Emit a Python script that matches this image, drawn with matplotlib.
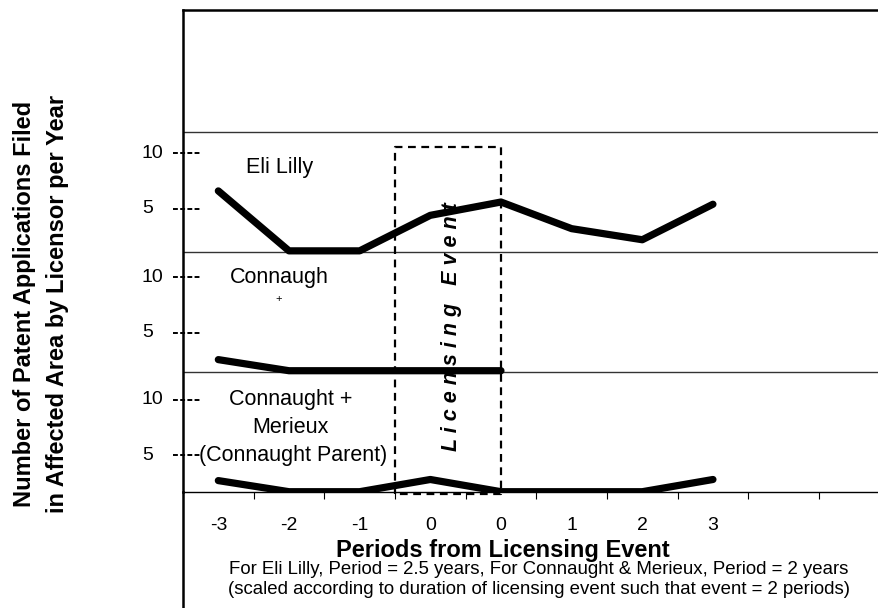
import numpy as np
import matplotlib
matplotlib.use("Agg")
import matplotlib.pyplot as plt
from matplotlib.lines import Line2D

# --- data ---
periods = ["-3", "-2", "-1", "0", "0", "1", "2", "3"]
eli_lilly = [6.6, 1.2, 1.2, 4.4, 5.6, 3.2, 2.2, 5.4]
connaught = [2.6, 1.6, 1.6, 1.6, 1.6, np.nan, np.nan, np.nan]
connaught_merieux = [2.7, 1.7, 1.7, 2.8, 1.7, 1.7, 1.7, 2.8]
panel_ticks = [5, 10]

# each series sits in its own horizontal band of one stacked axis
PANEL_H = 10.8
TOP = 43.4
# (series, band offset, value at band floor)
bands = [
    (connaught_merieux, 0.0, 1.7),
    (connaught, PANEL_H, 1.5),
    (eli_lilly, 2 * PANEL_H, 1.1),
]

plt.rcParams["font.family"] = ["Liberation Sans", "DejaVu Sans"]

W, H = 879, 608
fig = plt.figure(figsize=(W / 100, H / 100), dpi=100)
ax = fig.add_axes([183 / W, 1 - 491.7 / H, 1 - 183 / W, (491.7 - 10) / H])

x = np.arange(len(periods))
for vals, off, lo in bands:
    y = off + np.asarray(vals, dtype=float) - lo
    ax.plot(x, y, color="black", lw=5.2, solid_capstyle="round",
            solid_joinstyle="round", zorder=3)
    for t in panel_ticks:
        yt = off + t - lo
        ax.plot([-0.014, 0.025], [yt, yt], transform=ax.get_yaxis_transform(),
                color="black", lw=1.4, ls=(0, (2.5, 1.2)), clip_on=False)
        ax.text(-0.059, yt, str(t), transform=ax.get_yaxis_transform(),
                ha="left", va="center", fontsize=14)

# separators between the bands
for k in range(1, 4):
    ax.axhline(k * PANEL_H, color="#333333", lw=1.0, zorder=1)

# licensing event box
bx0, bx1, by0, by1 = 2.5, 4.0, -0.25, 31.1
ax.plot([bx0, bx0, bx1, bx1, bx0], [by0, by1, by1, by0, by0], color="black",
        lw=1.6, ls=(0, (3.5, 2.5)), clip_on=False, zorder=4)
ax.text(3.30, 14.9, "L i c e n s i n g   E v e n t", rotation=90,
        ha="center", va="center", fontsize=15.5, fontweight="bold",
        style="italic", zorder=5)

# series labels
lab = dict(ha="center", va="center", fontsize=15.5)
ax.text(0.86, 29.2, "Eli Lilly", **lab)
ax.text(0.86, 19.3, "Connaugh", **lab)
ax.text(0.85, 17.4, "+", ha="center", va="center", fontsize=8)
ax.text(1.02, 8.3, "Connaught +", **lab)
ax.text(1.02, 5.8, "Merieux", **lab)
ax.text(1.06, 3.3, "(Connaught Parent)", **lab)

ax.set_xlim(-0.5, 9.35)
ax.set_ylim(0, TOP)
ax.set_xticks(x)
ax.set_xticklabels(periods, fontsize=14)
ax.set_xticks(np.arange(0.5, 9.5, 1.0), minor=True)
ax.tick_params(axis="x", which="major", length=0, pad=18)
ax.tick_params(axis="x", which="minor", length=5, direction="out", width=0.8)
ax.set_yticks([])
ax.spines["right"].set_visible(False)
ax.spines["top"].set_linewidth(1.8)
ax.spines["left"].set_linewidth(1.8)
ax.spines["bottom"].set_linewidth(1.0)

# left border runs down past the axis
fig.add_artist(Line2D([183 / W, 183 / W], [0, 1 - 491.7 / H],
                      color="black", lw=1.8))

fig.text(503 / W, 1 - 550 / H, "Periods from Licensing Event", ha="center",
         va="center", fontsize=17, fontweight="bold")
fig.text(539 / W, 1 - 570 / H,
         "For Eli Lilly, Period = 2.5 years, For Connaught & Merieux, Period = 2 years",
         ha="center", va="center", fontsize=13.4)
fig.text(539 / W, 1 - 590 / H,
         "(scaled according to duration of licensing event such that event = 2 periods)",
         ha="center", va="center", fontsize=13.4)

fig.text(25 / W, 1 - 304 / H, "Number of Patent Applications Filed",
         rotation=90, ha="center", va="center", fontsize=17, fontweight="bold")
fig.text(58 / W, 1 - 304 / H, "in Affected Area by Licensor per Year",
         rotation=90, ha="center", va="center", fontsize=17, fontweight="bold")

fig.savefig("out.png", dpi=100)
